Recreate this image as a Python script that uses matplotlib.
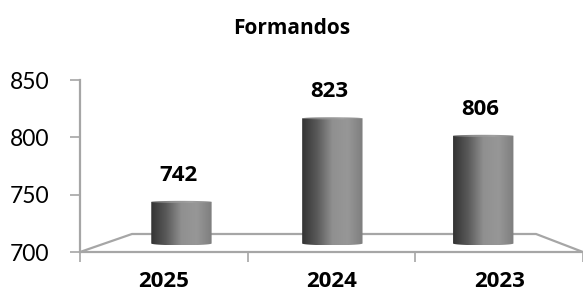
import numpy as np
import matplotlib.pyplot as plt
from matplotlib.patches import Polygon
from matplotlib.colors import LinearSegmentedColormap

# Data
categories = ["2025", "2024", "2023"]
values = [742, 823, 806]
y_ticks = [700, 750, 800, 850]
title = "Formandos"

plt.rcParams['font.family'] = ['Lato', 'DejaVu Sans']
bold_font = ['Open Sans', 'DejaVu Sans']

fig = plt.figure(figsize=(5.83, 2.93), dpi=100)
ax = fig.add_axes([80 / 583, 41 / 293, 503 / 583, 172 / 293])
ymin, ymax = 700, 850
ax.set_xlim(0, 3)
ax.set_ylim(ymin, ymax)

grey = '#a6a6a6'
for s in ['top', 'right', 'bottom']:
    ax.spines[s].set_visible(False)
ax.spines['left'].set_color(grey)
ax.spines['left'].set_linewidth(1.6)

ax.set_yticks(y_ticks)
ax.tick_params(axis='y', direction='out', length=7, width=1.2, color=grey,
               labelsize=16.5, pad=15)
ax.set_xticks([0, 1, 2, 3])
ax.set_xticklabels([])
ax.set_xticks([i + 0.5 for i in range(len(categories))], minor=True)
ax.set_xticklabels(categories, minor=True, fontweight='bold', fontsize=16,
                   family=bold_font)
ax.tick_params(axis='x', which='major', direction='out', length=7, width=1.2, color=grey)
ax.tick_params(axis='x', which='minor', length=0, pad=14)

# floor (perspective)
depth = 15.7
back_l, back_r = 0.31, 2.72
floor = Polygon([[0, ymin], [back_l, ymin + depth], [back_r, ymin + depth], [3, ymin]],
                closed=True, fill=False, edgecolor=grey, lw=1.6, clip_on=False, zorder=1)
ax.add_patch(floor)

# cylinders at mid depth
scale = 0.9
off = 0.155
base = ymin + depth / 2 - 2
bw = 0.40 * scale
e = 1.6
fig.text(0.5, 1 - 29 / 293, title, ha='center', va='center', fontweight='bold',
         fontsize=15, family=bold_font)

cmap_body = LinearSegmentedColormap.from_list(
    'body', ['#333333', '#5a5a5a', '#909090', '#979797', '#7e7e7e'])
cmap_top = LinearSegmentedColormap.from_list(
    'top', ['#6a6a6a', '#8e8e8e', '#a0a0a0', '#8a8a8a'])
grad = np.linspace(0, 1, 256).reshape(1, -1)

for i, v in enumerate(values):
    cx = off + scale * (i + 0.5)
    x0, x1 = cx - bw / 2, cx + bw / 2
    top = base + (v - ymin) * scale
    t = np.linspace(np.pi, 2 * np.pi, 60)
    bottom_arc = np.column_stack([cx + bw / 2 * np.cos(t), base + e + e * np.sin(t)])
    pts = np.vstack([[[x0, top]], bottom_arc, [[x1, top]]])
    body = Polygon(pts, closed=True, facecolor='none', edgecolor='none')
    ax.add_patch(body)
    im = ax.imshow(grad, cmap=cmap_body, aspect='auto', extent=[x0, x1, base, top],
                   zorder=3, interpolation='bilinear')
    im.set_clip_path(body)
    tt = np.linspace(0, 2 * np.pi, 80)
    cap = Polygon(np.column_stack([cx + bw / 2 * np.cos(tt), top + e * 0.6 * np.sin(tt)]),
                  closed=True, facecolor='none', edgecolor='none')
    ax.add_patch(cap)
    im2 = ax.imshow(grad, cmap=cmap_top, aspect='auto',
                    extent=[x0, x1, top - e, top + e], zorder=4, interpolation='bilinear')
    im2.set_clip_path(cap)
    ax.annotate(str(v), (cx - 0.02, top), xytext=(0, 19), textcoords='offset points',
                ha='center', va='center', fontweight='bold', fontsize=16,
                family=bold_font, annotation_clip=False)

ax.set_xlim(0, 3)
ax.set_ylim(ymin, ymax)
fig.savefig('out.png', dpi=100)
